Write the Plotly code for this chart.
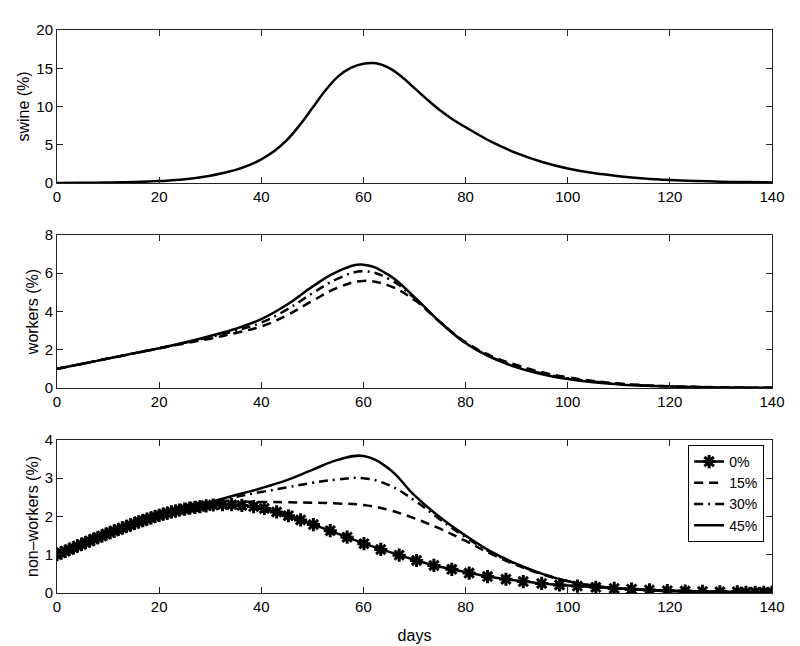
"""Swine / workers / non-workers infection curves, three stacked panels."""
import plotly.graph_objects as go
from plotly.subplots import make_subplots

FONT = "Liberation Sans, Arial, Helvetica, sans-serif"

# common day grid for the smooth curves
days = [0, 5, 10, 15, 20, 25, 30, 35, 40, 45, 50, 55, 60, 65, 70, 75, 80,
        85, 90, 95, 100, 105, 110, 115, 120, 125, 130, 135, 140]

# swine curve is steep, so it gets a finer grid round the peak
swine_days = [0, 5, 10, 15, 20, 25, 30, 32.5, 35, 37.5, 40, 42.5, 45, 47.5,
              50, 52.5, 55, 57.5, 60, 62.5, 65, 67.5, 70, 72.5, 75, 77.5, 80,
              85, 90, 95, 100, 105, 110, 115, 120, 125, 130, 135, 140]
swine = [0.01, 0.03, 0.06, 0.12, 0.25, 0.48, 0.95, 1.3, 1.72, 2.3, 3.1, 4.15,
         5.6, 7.55, 9.8, 12.05, 13.9, 15.05, 15.6, 15.65, 15.05, 13.9, 12.4,
         10.9, 9.5, 8.3, 7.3, 5.4, 3.9, 2.75, 1.9, 1.3, 0.9, 0.6, 0.4, 0.27,
         0.18, 0.12, 0.08]

workers_15 = [1.0, 1.27, 1.54, 1.81, 2.07, 2.33, 2.58, 2.88, 3.22, 3.8, 4.55,
              5.25, 5.6, 5.35, 4.6, 3.45, 2.4, 1.68, 1.2, 0.82, 0.56, 0.37,
              0.24, 0.15, 0.09, 0.06, 0.04, 0.02, 0.01]
workers_30 = [1.0, 1.27, 1.54, 1.81, 2.08, 2.36, 2.66, 3.0, 3.42, 4.1, 4.95,
              5.72, 6.1, 5.7, 4.7, 3.45, 2.35, 1.62, 1.13, 0.76, 0.51, 0.34,
              0.22, 0.13, 0.08, 0.05, 0.03, 0.02, 0.01]
workers_45 = [1.0, 1.27, 1.54, 1.81, 2.08, 2.38, 2.72, 3.1, 3.6, 4.35, 5.3,
              6.1, 6.45, 5.9, 4.75, 3.45, 2.35, 1.6, 1.08, 0.72, 0.47, 0.3,
              0.19, 0.12, 0.08, 0.05, 0.03, 0.02, 0.01]

nonworkers_15 = [1.0, 1.29, 1.56, 1.81, 2.03, 2.2, 2.33, 2.38, 2.38, 2.37,
                 2.36, 2.34, 2.3, 2.17, 1.95, 1.68, 1.36, 1.02, 0.73, 0.49,
                 0.31, 0.19, 0.12, 0.08, 0.05, 0.035, 0.025, 0.02, 0.015]
nonworkers_30 = [1.0, 1.29, 1.56, 1.81, 2.03, 2.21, 2.35, 2.51, 2.64, 2.76,
                 2.88, 2.97, 3.0, 2.82, 2.42, 1.92, 1.46, 1.06, 0.75, 0.5, 0.31,
                 0.19, 0.12, 0.08, 0.05, 0.035, 0.025, 0.02, 0.015]
nonworkers_45 = [1.0, 1.29, 1.56, 1.81, 2.03, 2.22, 2.38, 2.56, 2.74, 2.95,
                 3.22, 3.48, 3.58, 3.25, 2.55, 1.98, 1.5, 1.08, 0.76, 0.5, 0.31,
                 0.19, 0.12, 0.08, 0.05, 0.035, 0.025, 0.02, 0.015]

# 0% scenario: solver output points (dense early, sparse later)
zero_days = [0, 0.8, 1.6, 2.4, 3.2, 4.0, 4.8, 5.6, 6.4, 7.2, 8.0, 8.8, 9.6,
             10.4, 11.2, 12.0, 12.8, 13.6, 14.4, 15.2, 16.0, 16.8, 17.6,
             18.4, 19.2, 20.0, 20.8, 21.6, 22.4, 23.2, 24.0, 25, 26, 27, 28,
             29.2, 30.6, 32.4, 34.2, 36.2, 38.5, 40.6, 43.0, 45.3, 47.7,
             50.2, 53.5, 56.8, 60.1, 63.4, 67.0, 70.4, 73.8, 77.3, 80.7,
             84.3, 87.9, 91.3, 94.9, 98.4, 101.9, 105.5, 109.1, 112.5, 116.0,
             119.5, 123.0, 126.4, 129.8, 133.2, 134.9, 136.7, 138.4, 140]
zero_vals = [1.00, 1.05, 1.09, 1.14, 1.18, 1.23, 1.27, 1.32, 1.36, 1.41, 1.45,
             1.49, 1.54, 1.58, 1.62, 1.66, 1.70, 1.74, 1.78, 1.82, 1.86, 1.89,
             1.93, 1.96, 2.00, 2.03, 2.06, 2.09, 2.12, 2.14, 2.17, 2.19, 2.22,
             2.24, 2.26, 2.28, 2.30, 2.31, 2.31, 2.29, 2.26, 2.21, 2.12, 2.02,
             1.91, 1.79, 1.63, 1.46, 1.29, 1.14, 0.99, 0.85, 0.72, 0.62, 0.52,
             0.43, 0.36, 0.30, 0.25, 0.21, 0.18, 0.15, 0.12, 0.10, 0.08, 0.06,
             0.05, 0.04, 0.03, 0.03, 0.02, 0.02, 0.02, 0.02]

scenario_names = ["15%", "30%", "45%"]
dashes = ["9px,6px", "9px,5px,2px,5px", "solid"]

fig = make_subplots(rows=3, cols=1)

line_w = 2.5

fig.add_trace(go.Scatter(x=swine_days, y=swine, mode="lines", showlegend=False,
                         line=dict(color="black", width=line_w, shape="spline", smoothing=1.1)),
              row=1, col=1)

for name, vals, dash in zip(scenario_names, [workers_15, workers_30, workers_45], dashes):
    fig.add_trace(go.Scatter(x=days, y=vals, mode="lines", showlegend=False, name=name,
                             line=dict(color="black", width=line_w, dash=dash,
                                       shape="spline", smoothing=1.2)),
                  row=2, col=1)

fig.add_trace(go.Scatter(x=zero_days, y=zero_vals, mode="lines+markers", name="0%",
                         line=dict(color="black", width=line_w),
                         marker=dict(symbol="asterisk-open", size=11, color="black",
                                     line=dict(color="black", width=3))),
              row=3, col=1)

for name, vals, dash in zip(scenario_names, [nonworkers_15, nonworkers_30, nonworkers_45], dashes):
    fig.add_trace(go.Scatter(x=days, y=vals, mode="lines", name=name,
                             line=dict(color="black", width=line_w, dash=dash,
                                       shape="spline", smoothing=1.2)),
                  row=3, col=1)

axis_style = dict(
    showline=True, linecolor="#222", linewidth=1, mirror="ticks",
    ticks="inside", ticklen=6, tickcolor="#222", showgrid=False, zeroline=False,
    tickfont=dict(family=FONT, size=15, color="black"),
)

title_font = dict(family=FONT, size=16, color="black")

fig.update_xaxes(range=[0, 140], dtick=20, domain=[0, 1], **axis_style)
fig.update_yaxes(**axis_style)

fig.update_yaxes(range=[0, 20], dtick=5, domain=[0.7282, 1.0],
                 title=dict(text="swine (%)", font=title_font, standoff=2), row=1, col=1)
fig.update_yaxes(range=[0, 8], dtick=2, domain=[0.3641, 0.6359],
                 title=dict(text="workers (%)", font=title_font, standoff=2), row=2, col=1)
fig.update_yaxes(range=[0, 4], dtick=1, domain=[0, 0.2718],
                 title=dict(text="non\u2013workers (%)", font=title_font, standoff=2), row=3, col=1)
fig.update_xaxes(title=dict(text="days", font=title_font), row=3, col=1)

# the page body adds an 8px offset, so margins are shifted to compensate
fig.update_layout(
    width=800, height=646,
    margin=dict(l=49, r=36, t=22, b=61),
    paper_bgcolor="white", plot_bgcolor="white",
    font=dict(family=FONT, color="black"),
    legend=dict(
        x=0.989, y=0.263, xanchor="right", yanchor="top",
        bgcolor="white", bordercolor="black", borderwidth=1,
        font=dict(family=FONT, size=14, color="black"),
        itemwidth=30, tracegroupgap=0,
    ),
)

fig.write_html("out.html")
